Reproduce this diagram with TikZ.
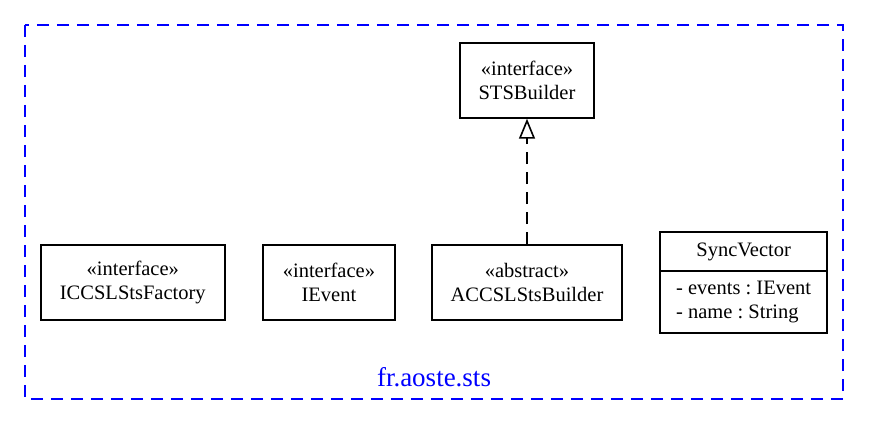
\documentclass[tikz,border=0pt]{standalone}
\usepackage{fontspec}
\setmainfont{Liberation Serif}
\usetikzlibrary{positioning, shapes.multipart, arrows.meta}

\begin{document}
\frenchspacing
\begin{tikzpicture}[x=1pt, y=-1pt, node distance=35.5pt,
  classbox/.style={draw, line width=1.6pt, align=center, minimum height=75pt,
    inner xsep=4pt, font=\fontsize{20.5}{23.5}\selectfont},
  recordbox/.style={draw, line width=1.6pt, rectangle split, rectangle split parts=2,
    align=left, inner xsep=16pt, inner ysep=9.5pt, font=\fontsize{20.5}{23.5}\selectfont},
  realize/.style={dashed, dash pattern=on 12pt off 8pt, line width=1.6pt,
    -{Triangle[open, length=20pt, width=16pt, line width=1.6pt]}},
  pkgframe/.style={draw=blue, dash pattern=on 12pt off 8pt, line width=1.6pt}]
  \useasboundingbox (0,0) rectangle (869,425);
  \draw[pkgframe] (25,25) rectangle (843,399);
  \node (pkglabel) [text=blue, font=\fontsize{27}{30}\selectfont] at (434,377) {fr.aoste.sts};
  \node (accsl) [classbox, minimum width=190pt] at (527,282.5) {«abstract»\\ACCSLStsBuilder};
  \node (stsbuilder) [classbox, minimum width=134pt, above=125.5pt of accsl] {«interface»\\STSBuilder};
  \node (ievent) [classbox, minimum width=132pt, left=of accsl] {«interface»\\IEvent};
  \node (iccsl) [classbox, minimum width=184pt, left=36.5pt of ievent] {«interface»\\ICCSLStsFactory};
  \node (syncvector) [recordbox, minimum width=167pt, right=36.5pt of accsl]
    {SyncVector\nodepart{two}- events : IEvent\\- name : String};
  \draw[realize] (accsl) -- (stsbuilder);
\end{tikzpicture}
\end{document}
